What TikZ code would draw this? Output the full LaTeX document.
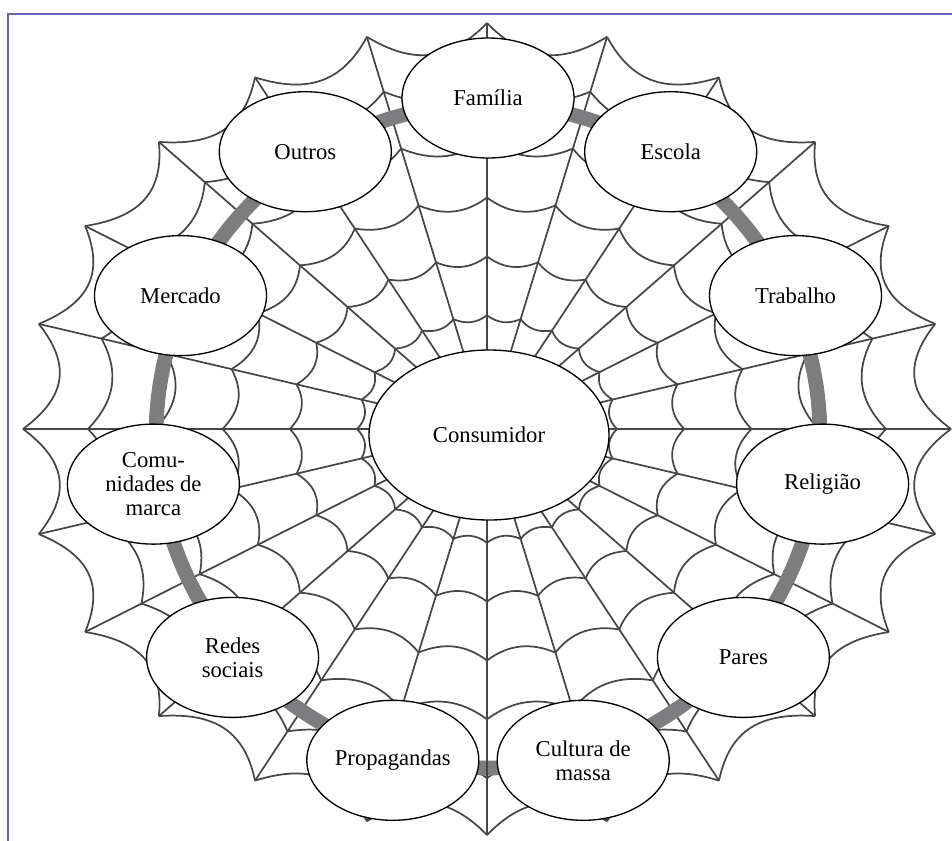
\documentclass[tikz,border=0pt]{standalone}
\usepackage{fontspec}
\setmainfont{Liberation Serif}
\usetikzlibrary{shapes.geometric}
\definecolor{webc}{RGB}{70,70,70}
\definecolor{bandc}{RGB}{125,125,128}
\definecolor{framec}{RGB}{100,100,180}
\begin{document}
\begin{tikzpicture}[x=0.75pt,y=-0.75pt,
  webline/.style={draw=webc,line width=1.3pt},
  band/.style={draw=bandc,line width=11pt},
  bubble/.style={ellipse,draw=black,line width=1pt,fill=white,minimum width=129pt,minimum height=90pt,inner sep=0pt,align=center,font=\fontsize{17pt}{18pt}\selectfont},
  hub/.style={bubble,minimum width=180pt,minimum height=127.5pt},
  framel/.style={draw=framec,line width=1.5pt}]
\useasboundingbox (0,0) rectangle (952,840);
\draw[framel] (8,841) -- (8,14) -- (953,14);
\coordinate (c) at (487,429);
% spokes
\foreach \i in {0,...,23}{
  \coordinate (tip\i) at ({487+464*cos(15*\i)},{429-406*sin(15*\i)});
  \draw[webline] (c) -- (tip\i);
}
% rings (sagging toward the centre)
\foreach \s/\f in {0.28/0.935,0.425/0.935,0.57/0.935,0.715/0.935,0.86/0.935,1/0.91}{
  \foreach \i in {0,...,23}{
    \pgfmathsetmacro{\ta}{15*\i}
    \pgfmathsetmacro{\tb}{15*\i+5}
    \pgfmathsetmacro{\tc}{15*\i+10}
    \pgfmathsetmacro{\td}{15*\i+15}
    \pgfmathsetmacro{\k}{\s*\f}
    \draw[webline] ({487+464*\s*cos(\ta)},{429-406*\s*sin(\ta)})
      .. controls ({487+464*\k*cos(\tb)},{429-406*\k*sin(\tb)})
      and ({487+464*\k*cos(\tc)},{429-406*\k*sin(\tc)})
      .. ({487+464*\s*cos(\td)},{429-406*\s*sin(\td)});
  }
}
% thick grey ring linking the influences
\draw[band] (488,436) circle[radius=332];
\draw[webline] (c) -- (tip18);
% nodes
\node[hub] (cons) at (489,435) {Consumidor};
\node[bubble] (familia) at (488,98) {Família};
\node[bubble] (escola) at (670.7,151.7) {Escola};
\node[bubble] (trabalho) at (795.5,295.6) {Trabalho};
\node[bubble] (religiao) at (822.6,484.1) {Religião};
\node[bubble] (pares) at (743.4,657.4) {Pares};
\node[bubble] (cultura) at (583.2,760.3) {Cultura de\\massa};
\node[bubble] (propag) at (392.8,760.3) {Propagandas};
\node[bubble] (redes) at (232.6,657.4) {Redes\\sociais};
\node[bubble] (comun) at (153.4,484.1) {Comu-\\nidades de\\marca};
\node[bubble] (mercado) at (180.5,295.6) {Mercado};
\node[bubble] (outros) at (305.3,151.7) {Outros};
\end{tikzpicture}
\end{document}
